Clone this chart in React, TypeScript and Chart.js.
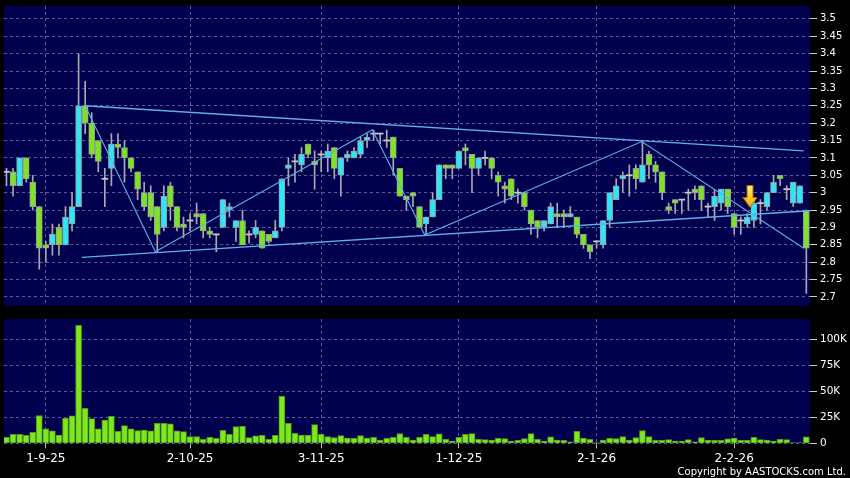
import React, { useEffect, useRef } from 'react';
import { Chart, registerables } from 'chart.js';

Chart.register(...registerables);

// ---------- data ----------
const opens = [
  3.06, 3.06, 3.02, 3.10, 3.03, 2.96, 2.85, 2.85, 2.90, 2.85,
  2.91, 2.96, 3.25, 3.20, 3.15, 3.04, 3.07, 3.14, 3.13, 3.10,
  3.06, 3.00, 3.00, 2.96, 2.90, 3.02, 2.96, 2.91, 2.92, 2.94,
  2.94, 2.89, 2.88, 2.90, 2.95, 2.90, 2.92, 2.88, 2.88, 2.89,
  2.88, 2.87, 2.90, 3.07, 3.09, 3.08, 3.14, 3.09, 3.11, 3.10,
  3.13, 3.05, 3.10, 3.10, 3.11, 3.15, 3.17, 3.17, 3.15, 3.16,
  3.07, 2.99, 3.00, 2.96, 2.91, 2.93, 2.98, 3.08, 3.08, 3.07,
  3.13, 3.11, 3.07, 3.10, 3.10, 3.05, 3.02, 3.04, 3.00, 3.00,
  2.95, 2.92, 2.90, 2.91, 2.94, 2.94, 2.93, 2.93, 2.88, 2.85,
  2.86, 2.85, 2.92, 2.98, 3.04, 3.05, 3.07, 3.03, 3.11, 3.08,
  3.06, 2.96, 2.98, 2.98, 3.00, 3.01, 3.02, 2.96, 2.96, 2.97,
  3.01, 2.94, 2.92, 2.91, 2.92, 2.97, 2.96, 3.00, 3.05, 3.01,
  2.97, 2.97, 2.95,
];
const highs = [
  3.07, 3.07, 3.10, 3.10, 3.05, 2.96, 2.86, 2.91, 2.91, 2.96,
  3.00, 3.40, 3.32, 3.23, 3.15, 3.07, 3.17, 3.17, 3.15, 3.10,
  3.06, 3.03, 3.02, 2.96, 3.02, 3.03, 2.96, 2.93, 2.94, 2.97,
  2.94, 2.90, 2.88, 2.98, 2.97, 2.92, 2.95, 2.89, 2.92, 2.89,
  2.88, 2.92, 3.04, 3.10, 3.11, 3.13, 3.14, 3.12, 3.12, 3.14,
  3.13, 3.10, 3.12, 3.13, 3.16, 3.17, 3.18, 3.17, 3.18, 3.16,
  3.07, 2.99, 3.00, 2.96, 2.93, 3.00, 3.08, 3.08, 3.08, 3.12,
  3.14, 3.11, 3.10, 3.12, 3.10, 3.06, 3.03, 3.04, 3.01, 3.00,
  2.95, 2.92, 2.92, 2.97, 2.97, 2.95, 2.96, 2.93, 2.88, 2.85,
  2.86, 2.92, 3.00, 3.04, 3.06, 3.08, 3.08, 3.15, 3.12, 3.09,
  3.06, 2.97, 2.98, 2.98, 3.01, 3.02, 3.02, 2.97, 3.01, 3.01,
  3.01, 2.94, 2.93, 2.94, 2.98, 2.98, 3.00, 3.05, 3.05, 3.02,
  3.03, 3.02, 2.95,
];
const lows = [
  3.02, 2.99, 3.02, 3.03, 2.95, 2.78, 2.80, 2.82, 2.82, 2.85,
  2.89, 2.96, 3.17, 3.10, 3.06, 2.96, 3.02, 3.10, 3.03, 3.06,
  2.98, 2.95, 2.92, 2.83, 2.89, 2.92, 2.89, 2.87, 2.89, 2.91,
  2.87, 2.87, 2.83, 2.90, 2.93, 2.86, 2.85, 2.855, 2.87, 2.84,
  2.855, 2.87, 2.89, 3.02, 3.03, 3.06, 3.10, 3.01, 3.06, 3.06,
  3.04, 2.99, 3.09, 3.10, 3.10, 3.13, 3.15, 3.14, 3.13, 3.05,
  2.99, 2.95, 2.96, 2.90, 2.88, 2.93, 2.98, 3.04, 3.04, 3.07,
  3.08, 3.00, 3.05, 3.08, 3.04, 2.99, 2.97, 2.98, 2.97, 2.95,
  2.88, 2.87, 2.89, 2.91, 2.90, 2.90, 2.93, 2.87, 2.84, 2.81,
  2.84, 2.84, 2.90, 2.98, 3.00, 2.99, 3.01, 3.03, 3.04, 3.03,
  2.98, 2.94, 2.94, 2.94, 2.95, 2.98, 2.95, 2.93, 2.92, 2.95,
  2.94, 2.88, 2.88, 2.90, 2.90, 2.91, 2.95, 3.00, 3.02, 2.98,
  2.96, 2.97, 2.71,
];
const closes = [
  3.06, 3.02, 3.10, 3.04, 2.96, 2.84, 2.84, 2.88, 2.85, 2.93,
  2.96, 3.25, 3.20, 3.11, 3.09, 3.04, 3.14, 3.13, 3.10, 3.07,
  3.01, 2.96, 2.93, 2.88, 2.99, 2.96, 2.90, 2.90, 2.92, 2.93,
  2.89, 2.88, 2.88, 2.98, 2.96, 2.92, 2.85, 2.88, 2.90, 2.84,
  2.86, 2.89, 3.04, 3.08, 3.09, 3.11, 3.11, 3.08, 3.11, 3.12,
  3.07, 3.10, 3.11, 3.12, 3.15, 3.16, 3.17, 3.17, 3.15, 3.10,
  2.99, 2.98, 2.99, 2.90, 2.93, 2.98, 3.08, 3.07, 3.07, 3.12,
  3.12, 3.07, 3.10, 3.10, 3.07, 3.03, 3.01, 2.99, 3.00, 2.96,
  2.91, 2.90, 2.92, 2.96, 2.93, 2.93, 2.94, 2.88, 2.85, 2.83,
  2.86, 2.92, 3.00, 3.02, 3.05, 3.05, 3.04, 3.08, 3.08, 3.06,
  3.00, 2.95, 2.97, 2.98, 3.00, 3.00, 2.98, 2.96, 2.99, 3.01,
  2.96, 2.90, 2.92, 2.93, 2.97, 2.97, 3.00, 3.03, 3.04, 3.01,
  3.03, 3.02, 2.84,
];
// volume, thousands of shares
const volumesK = [
  5.8, 8.7, 8.7, 7.7, 10.6, 26.6, 13.8, 11.9, 8.0, 24.0,
  26.3, 113.5, 33.7, 23.7, 13.8, 22.4, 26.0, 11.5, 17.0, 13.8,
  12.2, 12.8, 11.9, 19.2, 19.2, 18.6, 11.9, 11.2, 6.4, 6.4,
  3.8, 5.8, 4.8, 12.5, 8.7, 16.0, 16.3, 5.4, 7.1, 7.7,
  3.8, 7.7, 45.2, 19.2, 9.6, 8.0, 8.0, 17.9, 8.7, 6.4,
  5.4, 7.4, 5.1, 4.8, 7.4, 5.1, 5.8, 3.2, 4.8, 5.8,
  9.3, 5.8, 3.2, 5.8, 8.7, 6.4, 9.0, 3.8, 2.2, 5.8,
  8.7, 9.3, 3.8, 3.5, 3.2, 4.8, 4.5, 2.2, 2.9, 4.5,
  9.3, 3.8, 2.2, 6.1, 3.2, 2.9, 1.3, 11.5, 5.1, 3.8,
  0.6, 3.2, 4.8, 4.5, 6.4, 3.2, 5.4, 12.2, 6.4, 2.9,
  2.9, 3.5, 2.2, 2.2, 3.5, 1.3, 5.4, 3.2, 2.9, 2.9,
  4.2, 5.1, 2.9, 2.9, 5.8, 3.5, 3.2, 2.2, 3.8, 3.5,
  0.6, 0.6, 6.1,
];
const dateTickIndex = [6, 28, 48, 69, 90, 111];
const dateTickLabels = ['1-9-25', '2-10-25', '3-11-25', '1-12-25', '2-1-26', '2-2-26'];
const priceTicks = [2.7, 2.75, 2.8, 2.85, 2.9, 2.95, 3.0, 3.05, 3.1, 3.15, 3.2, 3.25, 3.3, 3.35, 3.4, 3.45, 3.5];
const volumeTicks = [0, 25, 50, 75, 100];
const volumeTickLabels = ['0', '25K', '50K', '75K', '100K'];
// drawn trend lines (x = trading-day index, y = price)
const topTrendLine = [{ x: 12, y: 3.25 }, { x: 121.6, y: 3.12 }];
const bottomTrendLine = [{ x: 11.5, y: 2.814 }, { x: 122.5, y: 2.948 }];
const zigzagLine = [
  { x: 12, y: 3.25 }, { x: 22.7, y: 2.83 }, { x: 55.8, y: 3.181 },
  { x: 63.8, y: 2.878 }, { x: 96.9, y: 3.147 }, { x: 121.6, y: 2.84 },
];
const arrowMarker = [{ x: 113.4, y: 2.989 }];

// ---------- style ----------
const NAVY = '#00004f';
const GRID = 'rgba(115,115,165,0.8)';
const UP = '#2ee6f6';
const DOWN = '#7ce424';
const EDGE = '#9c9c9c';
const TREND = '#5fb0ea';
const FONT = "'DejaVu Sans', sans-serif";
const X_MIN = -0.38;
const X_MAX = 122.56;

const navyBg = {
  id: 'navyBg',
  beforeDraw(chart: any) {
    const { ctx, chartArea: a } = chart;
    ctx.save();
    ctx.fillStyle = NAVY;
    ctx.fillRect(a.left, a.top, a.right - a.left, a.bottom - a.top);
    ctx.restore();
  },
};

function makeArrow(): HTMLCanvasElement {
  const c = document.createElement('canvas');
  c.width = 15;
  c.height = 23;
  const g = c.getContext('2d')!;
  const grad = g.createLinearGradient(0, 0, 0, 23);
  grad.addColorStop(0, '#fff07a');
  grad.addColorStop(0.5, '#ffd21e');
  grad.addColorStop(1, '#f2a010');
  g.beginPath();
  g.moveTo(4.5, 0.5);
  g.lineTo(10.5, 0.5);
  g.lineTo(10.5, 12.5);
  g.lineTo(14.5, 12.5);
  g.lineTo(7.5, 22.5);
  g.lineTo(0.5, 12.5);
  g.lineTo(4.5, 12.5);
  g.closePath();
  g.fillStyle = grad;
  g.fill();
  g.strokeStyle = '#a86a10';
  g.lineWidth = 1;
  g.stroke();
  return c;
}

function xScale(showLabels: boolean, axisHeight: number) {
  return {
    type: 'linear',
    min: X_MIN,
    max: X_MAX,
    offset: false,
    afterBuildTicks: (s: any) => {
      s.ticks = dateTickIndex.map((v) => ({ value: v }));
    },
    grid: { color: GRID, offset: false, drawTicks: showLabels, tickLength: 5, tickColor: '#bdbdbd' },
    border: { display: false, dash: [3, 3] },
    ticks: {
      display: showLabels,
      color: '#ffffff',
      font: { family: FONT, size: 12 },
      padding: 3,
      maxRotation: 0,
      autoSkip: false,
      callback: (v: number) => {
        const k = dateTickIndex.indexOf(v);
        return k >= 0 ? dateTickLabels[k] : '';
      },
    },
    afterFit: (s: any) => {
      s.height = axisHeight;
      s.paddingLeft = 0;
      s.paddingRight = 0;
    },
  };
}

export default function App() {
  const priceRef = useRef<HTMLCanvasElement>(null);
  const volRef = useRef<HTMLCanvasElement>(null);

  useEffect(() => {
    const arrow = makeArrow();
    const bodyData = opens.map((o, i) => {
      const c = closes[i];
      return { x: i, y: Math.abs(c - o) < 0.001 ? [o - 0.0016, o + 0.0016] : [o, c] };
    });
    const bodyColor = opens.map((o, i) =>
      closes[i] > o + 0.0005 ? UP : closes[i] < o - 0.0005 ? DOWN : '#c8c8c8'
    );
    const bodyBorder = opens.map((o, i) => (Math.abs(closes[i] - o) < 0.001 ? 0 : 1));

    const priceChart = new Chart(priceRef.current!, {
      type: 'bar',
      data: {
        datasets: [
          {
            type: 'bar',
            label: 'range',
            data: lows.map((l, i) => ({ x: i, y: [l, highs[i]] })),
            backgroundColor: '#a9a9a9',
            barThickness: 1,
            grouped: false,
            order: 4,
          } as any,
          {
            type: 'bar',
            label: 'body',
            data: bodyData,
            backgroundColor: bodyColor,
            borderColor: EDGE,
            borderWidth: bodyBorder,
            borderSkipped: false,
            barThickness: 6,
            grouped: false,
            order: 3,
          } as any,
          {
            type: 'line',
            label: 'top',
            data: topTrendLine,
            borderColor: TREND,
            borderWidth: 1.3,
            pointRadius: 0,
            order: 2,
          },
          {
            type: 'line',
            label: 'bottom',
            data: bottomTrendLine,
            borderColor: TREND,
            borderWidth: 1.3,
            pointRadius: 0,
            order: 2,
          },
          {
            type: 'line',
            label: 'zigzag',
            data: zigzagLine,
            borderColor: TREND,
            borderWidth: 1.1,
            pointRadius: 0,
            order: 2,
          },
          {
            type: 'line',
            label: 'arrow',
            data: arrowMarker,
            showLine: false,
            pointStyle: arrow,
            pointRadius: 10,
            order: 1,
          } as any,
        ],
      },
      options: {
        animation: false,
        responsive: false,
        events: [],
        layout: { autoPadding: false, padding: { top: 6, left: 4, right: 0, bottom: 0 } },
        plugins: { legend: { display: false }, tooltip: { enabled: false } },
        scales: {
          x: xScale(false, 0) as any,
          y: {
            type: 'linear',
            position: 'right',
            min: 2.674,
            max: 3.537,
            afterBuildTicks: (s: any) => {
              s.ticks = priceTicks.map((v) => ({ value: v }));
            },
            grid: { color: GRID, drawTicks: true, tickLength: 7, tickColor: '#cfcfcf' },
            border: { display: false, dash: [3, 3] },
            ticks: {
              color: '#ffffff',
              font: { family: FONT, size: 10 },
              padding: 3,
              callback: (v: number) => String(Number(v.toFixed(2))),
            },
            afterFit: (s: any) => {
              s.width = 40;
              s.paddingTop = 0;
              s.paddingBottom = 0;
            },
          } as any,
        },
      },
      plugins: [navyBg],
    });

    const volChart = new Chart(volRef.current!, {
      type: 'bar',
      data: {
        datasets: [
          {
            label: 'volume',
            data: volumesK.map((v, i) => ({ x: i, y: v })),
            backgroundColor: '#7ee81c',
            borderColor: '#4f9e12',
            borderWidth: 1,
            borderSkipped: 'bottom',
            barThickness: 6,
            grouped: false,
          } as any,
        ],
      },
      options: {
        animation: false,
        responsive: false,
        events: [],
        layout: { autoPadding: false, padding: { top: 9, left: 4, right: 0, bottom: 0 } },
        plugins: { legend: { display: false }, tooltip: { enabled: false } },
        scales: {
          x: xScale(true, 34.7) as any,
          y: {
            type: 'linear',
            position: 'right',
            min: 0,
            max: 119.5,
            afterBuildTicks: (s: any) => {
              s.ticks = volumeTicks.map((v) => ({ value: v }));
            },
            grid: { color: GRID, drawTicks: true, tickLength: 7, tickColor: '#cfcfcf' },
            border: { display: false, dash: [3, 3] },
            ticks: {
              color: '#ffffff',
              font: { family: FONT, size: 10.5 },
              padding: 3,
              callback: (v: number) => {
                const k = volumeTicks.indexOf(v);
                return k >= 0 ? volumeTickLabels[k] : '';
              },
            },
            afterFit: (s: any) => {
              s.width = 40;
              s.paddingTop = 0;
              s.paddingBottom = 0;
            },
          } as any,
        },
      },
      plugins: [navyBg],
    });

    return () => {
      priceChart.destroy();
      volChart.destroy();
    };
  }, []);

  return (
    <div
      style={{
        position: 'fixed',
        left: 0,
        top: 0,
        width: 850,
        height: 478,
        background: '#000',
        overflow: 'hidden',
      }}
    >
      <canvas
        ref={priceRef}
        width={850}
        height={306}
        style={{ position: 'absolute', left: 0, top: 0, width: 850, height: 306 }}
      />
      <canvas
        ref={volRef}
        width={850}
        height={168}
        style={{ position: 'absolute', left: 0, top: 310, width: 850, height: 168 }}
      />
      <div
        style={{
          position: 'absolute',
          right: 4,
          top: 466,
          fontFamily: FONT,
          fontSize: 10,
          lineHeight: '12px',
          color: '#fff',
          whiteSpace: 'nowrap',
        }}
      >
        Copyright by AASTOCKS.com Ltd.
      </div>
    </div>
  );
}
